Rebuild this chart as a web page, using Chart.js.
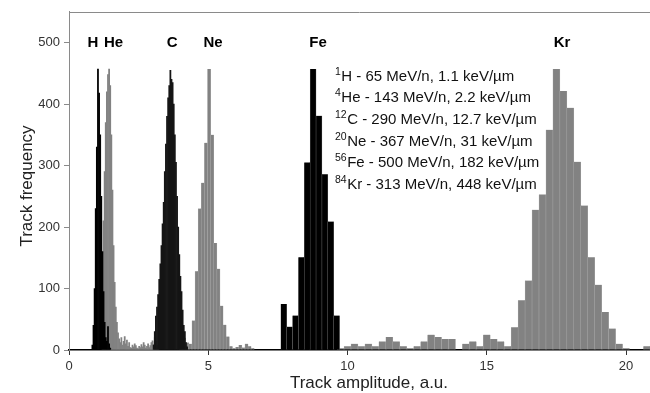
<!DOCTYPE html>
<html>
<head>
<meta charset="utf-8">
<script src="https://cdn.jsdelivr.net/npm/chart.js@4.4.0/dist/chart.umd.min.js"></script>
<style>
html,body{margin:0;padding:0;background:#fff;}
#wrap{width:650px;height:393px;}
</style>
</head>
<body>
<div id="wrap"><canvas id="c" width="650" height="393"></canvas></div>
<script>
// ---- Data (histogram bins: first bin centre, bin width, counts) ----
const hStart = 0.84, hWidth = 0.04;
const hCounts = [8, 40, 100, 230, 330, 457, 418, 350, 250, 160, 95, 45, 20, 14, 38, 10, 3];

const heStart = 1.20, heWidth = 0.04;
const heCounts = [140, 210, 290, 370, 420, 448, 457, 430, 350, 260, 170, 110, 70, 45, 28, 18,
  12, 20, 8, 14, 22, 10, 16, 6, 12, 4, 3, 8, 5, 10, 7, 3, 2, 6, 4, 9, 5, 12, 8, 3,
  6, 10, 4, 7, 12, 15, 9, 20, 14, 8, 5];

const cStart = 3.04, cWidth = 0.04;
const cCounts = [8, 30, 55, 70, 90, 115, 140, 170, 205, 240, 290, 335, 380, 410, 430, 455,
  440, 435, 400, 350, 305, 250, 200, 155, 120, 95, 65, 40, 30, 12, 5];

const neStart = 4.022, neWidth = 0.112;
const neCounts = [8, 20, 12, 10, 48, 128, 230, 272, 337, 457, 350, 174, 132, 72, 41, 22, 6,
  3, 5, 8, 4, 10, 6, 3];

const feStart = 7.71, feWidth = 0.211;
const feCounts = [75, 38, 56, 151, 305, 457, 381, 286, 209, 56];

const krStart = 9.75, krWidth = 0.25;
const krCounts = [3, 6, 10, 6, 10, 6, 14, 21, 14, 6, 3, 6, 14, 25, 21, 18, 18, 0, 10, 14, 6,
  25, 18, 14, 6, 37, 81, 113, 228, 253, 358, 457, 421, 394, 306, 235, 151, 106, 62, 35,
  10, 3, 0, 0, 6];

// Peak labels
const peakLabels = ['H', 'He', 'C', 'Ne', 'Fe', 'Kr'];
const peakLabelX = [0.86, 1.60, 3.70, 5.17, 8.94, 17.7];
const peakLabelY = 499;

// Beam list
const massNumbers = ['1', '4', '12', '20', '56', '84'];
const ions = ['H', 'He', 'C', 'Ne', 'Fe', 'Kr'];
const energies = ['65', '143', '290', '367', '500', '313'];
const lets = ['1.1', '2.2', '12.7', '31', '182', '448'];
const listX = 9.55, listY = 446;

// Axis
const xTitle = 'Track amplitude, a.u.';
const yTitle = 'Track frequency';
const xTicks = [0, 5, 10, 15, 20];
const yTicks = [0, 100, 200, 300, 400, 500];
const xMin = 0, xMax = 20.86, yMin = 0, yMax = 550;

// ---- Build ----
function bins(start, width, counts) {
  return counts.map((v, i) => ({x: +(start + i * width).toFixed(4), y: v}));
}
const FONT = '"Liberation Sans", Arial, Helvetica, sans-serif';
const GRAY = '#828282', GRAY_EDGE = '#a8a8a8';

function ds(label, data, color, edge, bw, axis) {
  return {
    label, data, xAxisID: axis,
    backgroundColor: color, borderColor: edge,
    borderWidth: bw, borderSkipped: false,
    barPercentage: 1, categoryPercentage: 1, grouped: false
  };
}
const sideEdges = {left: 0.5, right: 0.5, top: 0, bottom: 0};

const datasets = [
  ds('H', bins(hStart, hWidth, hCounts), '#000000', '#000', 0, 'x'),
  ds('C', bins(cStart, cWidth, cCounts), '#151515', '#000', 0, 'x3'),
  ds('Fe', bins(feStart, feWidth, feCounts), '#000000', '#6a6a6a', sideEdges, 'x5'),
  ds('He', bins(heStart, heWidth, heCounts), GRAY, GRAY, 0, 'x2'),
  ds('Ne', bins(neStart, neWidth, neCounts), GRAY, GRAY_EDGE, sideEdges, 'x4'),
  ds('Kr', bins(krStart, krWidth, krCounts), GRAY, GRAY_EDGE, sideEdges, 'x6')
];

function hiddenX() {
  return {type: 'linear', axis: 'x', min: xMin, max: xMax, display: false, offset: false,
          grid: {offset: false}, ticks: {includeBounds: false}};
}

const overlay = {
  id: 'overlay',
  afterDraw(chart) {
    const {ctx, chartArea, scales: {x, y}} = chart;
    ctx.save();
    // top frame line
    ctx.strokeStyle = '#8a8a8a';
    ctx.lineWidth = 1;
    ctx.beginPath();
    ctx.moveTo(chartArea.left, Math.round(chartArea.top) + 0.5);
    ctx.lineTo(chartArea.right, Math.round(chartArea.top) + 0.5);
    ctx.stroke();
    // axis titles
    ctx.fillStyle = '#222';
    ctx.font = '17px ' + FONT;
    ctx.textAlign = 'center';
    ctx.textBaseline = 'middle';
    ctx.fillText(xTitle, 369, 383);
    ctx.save();
    ctx.translate(27, 186);
    ctx.rotate(-Math.PI / 2);
    ctx.fillText(yTitle, 0, 0);
    ctx.restore();
    // peak labels
    ctx.fillStyle = '#000';
    ctx.font = 'bold 15px ' + FONT;
    peakLabels.forEach((t, i) => ctx.fillText(t, x.getPixelForValue(peakLabelX[i]), y.getPixelForValue(peakLabelY)));
    // beam list
    ctx.textAlign = 'left';
    ctx.textBaseline = 'alphabetic';
    const x0 = x.getPixelForValue(listX);
    const y0 = y.getPixelForValue(listY) + 5;
    const lineH = 21.6;
    for (let i = 0; i < ions.length; i++) {
      const yy = y0 + i * lineH;
      ctx.font = '10.5px ' + FONT;
      ctx.fillStyle = '#111';
      ctx.fillText(massNumbers[i], x0, yy - 6);
      const w = ctx.measureText(massNumbers[i]).width;
      ctx.font = '15px ' + FONT;
      ctx.fillText(ions[i] + ' - ' + energies[i] + ' MeV/n, ' + lets[i] + ' keV/\u00b5m', x0 + w + 0.5, yy);
    }
    ctx.restore();
  }
};

new Chart(document.getElementById('c'), {
  type: 'bar',
  data: {datasets},
  options: {
    responsive: false,
    animation: false,
    devicePixelRatio: 1,
    layout: {padding: {top: 5, left: 0, right: 0, bottom: 0}},
    plugins: {legend: {display: false}, tooltip: {enabled: false}},
    scales: {
      x: {
        type: 'linear', min: xMin, max: xMax, offset: false,
        afterFit(s) { s.height = 43; },
        afterBuildTicks(s) { s.ticks = xTicks.map(v => ({value: v})); },
        border: {display: true, color: '#000', width: 1.5},
        grid: {display: true, drawOnChartArea: false, drawTicks: true, tickLength: 5, color: '#333', offset: false},
        ticks: {color: '#333', font: {family: FONT, size: 13}, padding: 4, maxRotation: 0, includeBounds: false},
        title: {display: false}
      },
      x2: hiddenX(), x3: hiddenX(), x4: hiddenX(), x5: hiddenX(), x6: hiddenX(),
      y: {
        type: 'linear', min: yMin, max: yMax,
        afterFit(s) { s.width = 69; },
        afterBuildTicks(s) { s.ticks = yTicks.map(v => ({value: v})); },
        border: {display: true, color: '#8a8a8a', width: 1},
        grid: {display: true, drawOnChartArea: false, drawTicks: true, tickLength: 5, color: '#8a8a8a'},
        ticks: {color: '#333', font: {family: FONT, size: 13}, padding: 4, includeBounds: false},
        title: {display: false}
      }
    }
  },
  plugins: [overlay]
});
</script>
</body>
</html>
